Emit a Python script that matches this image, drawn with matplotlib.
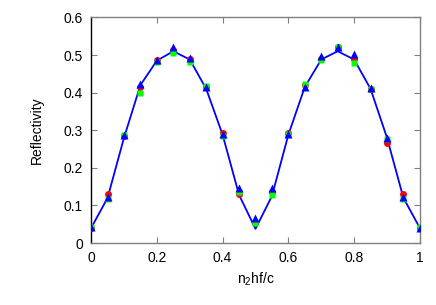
import matplotlib
matplotlib.use("Agg")
import matplotlib.pyplot as plt
import numpy as np

plt.rcParams['font.family'] = ['Liberation Sans', 'DejaVu Sans']
plt.rcParams['mathtext.fontset'] = 'custom'
plt.rcParams['mathtext.rm'] = 'Liberation Sans'
plt.rcParams['mathtext.it'] = 'Liberation Sans'

x = [0, 0.05, 0.1, 0.15, 0.2, 0.25, 0.3, 0.35, 0.4, 0.45, 0.5,
     0.55, 0.6, 0.65, 0.7, 0.75, 0.8, 0.85, 0.9, 0.95, 1.0]

theory = [0.040, 0.120, 0.280, 0.420, 0.485, 0.510, 0.488, 0.410, 0.288, 0.128, 0.038,
          0.125, 0.288, 0.415, 0.488, 0.510, 0.488, 0.410, 0.280, 0.120, 0.040]

red = [0.040, 0.130, 0.285, 0.415, 0.488, 0.512, 0.490, 0.415, 0.292, 0.130, 0.055,
       0.135, 0.293, 0.420, 0.490, 0.520, 0.490, 0.410, 0.265, 0.130, 0.040]

green = [0.044, 0.118, 0.287, 0.400, 0.482, 0.505, 0.482, 0.418, 0.285, 0.137, 0.054,
         0.127, 0.290, 0.423, 0.488, 0.520, 0.480, 0.410, 0.278, 0.117, 0.042]

blue = [0.042, 0.123, 0.287, 0.423, 0.488, 0.522, 0.493, 0.415, 0.290, 0.147, 0.067,
        0.147, 0.290, 0.415, 0.497, 0.522, 0.502, 0.412, 0.280, 0.123, 0.040]

fig = plt.figure(figsize=(4.36, 3.05), dpi=100)
ax = fig.add_axes([0.209, 0.203, 0.754, 0.740])

ax.plot(x, theory, color='#0000ff', lw=1.3, zorder=2)
ax.plot(x, red, 'o', color='#ff0000', ms=5, mec='none', zorder=3)
ax.plot(x, green, 's', color='#00ff00', ms=5, mec='none', zorder=4)
ax.plot(x, blue, '^', color='#0000ff', ms=6, mec='none', zorder=5)

ax.set_xlim(0, 1)
ax.set_ylim(0, 0.6)
ax.set_xticks([0, 0.2, 0.4, 0.6, 0.8, 1])
ax.set_xticklabels(['0', '0.2', '0.4', '0.6', '0.8', '1'])
ax.set_yticks([0, 0.1, 0.2, 0.3, 0.4, 0.5, 0.6])
ax.set_yticklabels(['0', '0.1', '0.2', '0.3', '0.4', '0.5', '0.6'])
ax.tick_params(direction='in', length=4, color='#808080', labelsize=10,
               top=True, right=True, pad=6)
for side in ['top', 'right', 'bottom']:
    ax.spines[side].set_color('#808080')
ax.spines['left'].set_color('black')
for s in ax.spines.values():
    s.set_linewidth(1.0)

ax.set_xlabel('n$_2$hf/c', fontsize=10, labelpad=4)
ax.set_ylabel('Reflectivity', fontsize=10, labelpad=14)

fig.savefig('out.png', dpi=100)
